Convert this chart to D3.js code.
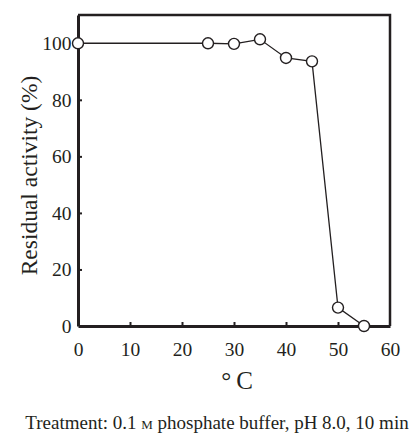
<!DOCTYPE html>
<html>
<head>
<meta charset="utf-8">
<script src="https://cdn.jsdelivr.net/npm/d3@7"></script>
<style>
  body { margin: 0; background: #fff; }
  text { font-family: "Liberation Serif", "Times New Roman", serif; fill: #231f20; }
</style>
</head>
<body>
<div id="wrapper"></div>
<script>
// temperature (°C) vs residual activity (%)
const temps = [0, 25, 30, 35, 40, 45, 50, 55]
const activity = [100, 100, 99.8, 101.4, 94.8, 93.6, 6.5, 0]
const xTicks = [0, 10, 20, 30, 40, 50, 60]
const yTicks = [0, 20, 40, 60, 80, 100]

const dataset = temps.map((t, i) => ({ t: t, a: activity[i] }))
const xAccessor = d => d.t
const yAccessor = d => d.a

let dimensions = {
  width: 414,
  height: 434,
  margin: { top: 15, right: 24, bottom: 108, left: 78 },
}
dimensions.boundedWidth = dimensions.width - dimensions.margin.left - dimensions.margin.right
dimensions.boundedHeight = dimensions.height - dimensions.margin.top - dimensions.margin.bottom

const wrapper = d3.select("#wrapper")
  .append("svg")
    .attr("width", dimensions.width)
    .attr("height", dimensions.height)

const bounds = wrapper.append("g")
    .attr("transform", `translate(${dimensions.margin.left},${dimensions.margin.top})`)

const xScale = d3.scaleLinear()
  .domain([0, 60])
  .range([0, dimensions.boundedWidth])

const yScale = d3.scaleLinear()
  .domain([0, 110])
  .range([dimensions.boundedHeight, 0])

const ink = "#231f20"

// frame (top and right)
bounds.append("path")
    .attr("d", `M0,0H${dimensions.boundedWidth}V${dimensions.boundedHeight}`)
    .attr("fill", "none")
    .attr("stroke", ink)
    .attr("stroke-width", 2.5)

// axes with inward ticks
const xAxis = bounds.append("g")
    .attr("transform", `translate(0,${dimensions.boundedHeight})`)
    .call(d3.axisBottom(xScale).tickValues(xTicks).tickSizeInner(-4).tickSizeOuter(0).tickPadding(16.5))
const yAxis = bounds.append("g")
    .call(d3.axisLeft(yScale).tickValues(yTicks).tickSizeInner(-4).tickSizeOuter(0).tickPadding(6.5))

;[xAxis, yAxis].forEach(ax => {
  ax.select(".domain").attr("stroke", ink).attr("stroke-width", 3)
  ax.selectAll(".tick line").attr("stroke", ink).attr("stroke-width", 2)
  ax.selectAll(".tick text")
      .style("font-size", "19.5px")
      .attr("fill", ink)
})
xAxis.selectAll(".tick").filter(d => d === 0 || d === 60).select("line").remove()
yAxis.selectAll(".tick").filter(d => d === 0 || d === 100).select("line").remove()

// data
const line = d3.line()
  .x(d => xScale(xAccessor(d)))
  .y(d => yScale(yAccessor(d)))

bounds.append("path")
    .datum(dataset)
    .attr("d", line)
    .attr("fill", "none")
    .attr("stroke", ink)
    .attr("stroke-width", 1.3)

bounds.selectAll("circle")
  .data(dataset)
  .enter().append("circle")
    .attr("cx", d => xScale(xAccessor(d)))
    .attr("cy", d => yScale(yAccessor(d)))
    .attr("r", 5.5)
    .attr("fill", "#fff")
    .attr("stroke", ink)
    .attr("stroke-width", 1.4)

// labels
bounds.append("text")
    .attr("x", 159)
    .attr("y", 374)
    .attr("text-anchor", "middle")
    .style("font-size", "25px")
    .text("°\u2009C")

wrapper.append("text")
    .attr("transform", "translate(37,175.5) rotate(-90)")
    .attr("text-anchor", "middle")
    .style("font-size", "23.5px")
    .text("Residual activity (%)")

const caption = wrapper.append("text")
    .attr("x", 217)
    .attr("y", 429)
    .attr("text-anchor", "middle")
    .style("font-size", "19px")
caption.append("tspan").text("Treatment: 0.1 ")
caption.append("tspan").style("font-variant", "small-caps").text("m")
caption.append("tspan").text(" phosphate buffer, pH 8.0, 10 min")
</script>
</body>
</html>
